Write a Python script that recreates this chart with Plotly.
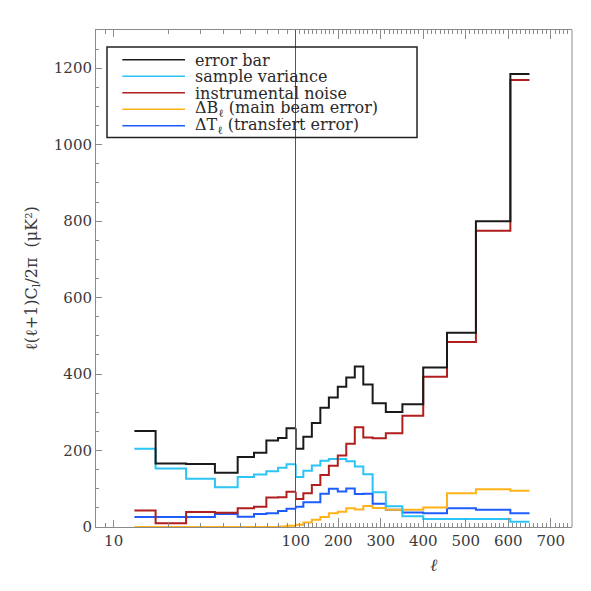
import math
import plotly.graph_objects as go
from plotly.subplots import make_subplots

# multipole bin edges: low-l part drawn on a log axis, high-l part on a linear axis
EDGES_LOW = [13, 17, 25, 36, 48, 59, 69, 80, 89, 100]
EDGES_HIGH = [100, 118, 138, 158, 178, 199, 219, 239, 259, 281, 312, 351, 400, 456, 524, 605, 650]

# band power errors (muK^2), one value per bin
ERRBAR_LOW = [251, 166, 165, 142, 183, 194, 226, 233, 258]
ERRBAR_HIGH = [205, 236, 272, 312, 339, 367, 391, 420, 373, 324, 301, 321, 417, 508, 800, 1185]

SAMPLE_LOW = [205, 153, 126, 104, 131, 137, 146, 155, 164]
SAMPLE_HIGH = [131, 147, 161, 173, 178, 178, 172, 158, 138, 91, 54, 28, 21, 21, 21, 14]

NOISE_LOW = [43, 10, 39, 37, 49, 53, 77, 78, 92]
NOISE_HIGH = [73, 88, 110, 136, 160, 187, 218, 261, 234, 232, 245, 291, 393, 484, 775, 1169]

BEAM_LOW = [0, 0, 0, 0, 0, 0, 0, 1, 3]
BEAM_HIGH = [6, 12, 19, 26, 36, 40, 49, 46, 55, 50, 45, 45, 51, 88, 99, 95]

TRANS_LOW = [26, 26, 26, 34, 27, 34, 36, 42, 48]
TRANS_HIGH = [53, 65, 65, 87, 100, 93, 101, 86, 87, 61, 45, 38, 36, 49, 45, 36]

NAMES = [
    "error bar",
    "sample variance",
    "instrumental noise",
    "ΔB<sub>ℓ</sub> (main beam error)",
    "ΔT<sub>ℓ</sub> (transfert error)",
]
COLORS = ["#1a1a1a", "#2cc3f5", "#b01e1e", "#ffb21a", "#1f5cff"]
LOW = [ERRBAR_LOW, SAMPLE_LOW, NOISE_LOW, BEAM_LOW, TRANS_LOW]
HIGH = [ERRBAR_HIGH, SAMPLE_HIGH, NOISE_HIGH, BEAM_HIGH, TRANS_HIGH]

FONT = "DejaVu Serif"
AXCOL = "#8a8a8a"


def steps(edges, vals):
    # x/y for a histogram-like line with line_shape="hv"
    return list(edges), list(vals) + [vals[-1]]


fig = make_subplots(rows=1, cols=2, shared_yaxes=True,
                    horizontal_spacing=0, column_widths=[199.7, 276.3])

# draw order: black on top
for i in [4, 3, 1, 2, 0]:
    x, y = steps(EDGES_LOW, LOW[i])
    fig.add_trace(go.Scatter(x=x, y=y, mode="lines", line_shape="hv",
                             line=dict(color=COLORS[i], width=2),
                             name=NAMES[i], showlegend=False), row=1, col=1)
    # right panel also starts with the jump at l=100
    x, y = steps(EDGES_HIGH, HIGH[i])
    x = [EDGES_HIGH[0]] + x
    y = [LOW[i][-1]] + y
    fig.add_trace(go.Scatter(x=x, y=y, mode="lines", line_shape="hv",
                             line=dict(color=COLORS[i], width=2),
                             name=NAMES[i], showlegend=False), row=1, col=2)

tickfont = dict(family=FONT, size=15, color="#3a3a3a")

fig.update_xaxes(type="log", range=[math.log10(8), 2],
                 tickvals=[10], ticktext=["10"],
                 ticks="inside", ticklen=7, tickcolor=AXCOL,
                 minor=dict(tickvals=[8, 9, 20, 30, 40, 50, 60, 70, 80, 90],
                            ticks="inside", ticklen=4, tickcolor=AXCOL),
                 showline=True, linecolor=AXCOL, linewidth=1, mirror="ticks",
                 showgrid=False, zeroline=False, tickfont=tickfont,
                 row=1, col=1)
fig.update_xaxes(range=[100, 750], tick0=0, dtick=100,
                 ticks="inside", ticklen=9, tickcolor=AXCOL,
                 minor=dict(dtick=10, ticks="inside", ticklen=4, tickcolor=AXCOL),
                 showline=True, linecolor=AXCOL, linewidth=1, mirror="ticks",
                 showgrid=False, zeroline=False, tickfont=tickfont,
                 title=dict(text="<i>ℓ</i>", font=dict(family=FONT, size=17, color="#3a3a3a"),
                            standoff=10),
                 row=1, col=2)
fig.update_yaxes(range=[0, 1300], dtick=200,
                 ticks="inside", ticklen=6, tickcolor=AXCOL,
                 minor=dict(dtick=50, ticks="inside", ticklen=3, tickcolor=AXCOL),
                 showline=True, linecolor=AXCOL, linewidth=1,
                 showgrid=False, zeroline=False, tickfont=tickfont,
                 title=dict(text="ℓ(ℓ+1)C<sub>l</sub>/2π  (μK²)",
                            font=dict(family=FONT, size=16, color="#3a3a3a"),
                            standoff=12),
                 row=1, col=1)
fig.update_yaxes(showticklabels=False, ticks="", showline=True,
                 linecolor="#555", linewidth=1, showgrid=False, zeroline=False,
                 row=1, col=2)

# right frame edge
fig.add_shape(type="line", xref="paper", yref="paper", x0=1, x1=1, y0=0, y1=1,
              line=dict(color=AXCOL, width=1))

# legend box drawn by hand (long line samples like the original)
fig.add_shape(type="rect", xref="paper", yref="paper",
              x0=0.0231, x1=0.6744, y0=0.7836, y1=0.9659,
              line=dict(color="#222", width=1.5))
for i, name in enumerate(NAMES):
    yy = 0.9399 - i * 0.0331
    fig.add_shape(type="line", xref="paper", yref="paper",
                  x0=0.0553, x1=0.187, y0=yy, y1=yy,
                  line=dict(color=COLORS[i], width=1.5))
    fig.add_annotation(x=0.206, y=yy, xref="paper", yref="paper",
                       text=name, showarrow=False, xanchor="left", yanchor="middle",
                       height=16, borderpad=0,
                       font=dict(family=FONT, size=16, color="#2a2a2a"))

# page body adds an 8px margin, so the figure is 16px smaller than the window
fig.update_layout(
    width=575, height=575,
    margin=dict(l=88, r=11, t=22, b=54),
    plot_bgcolor="white", paper_bgcolor="white",
    showlegend=False,
)

fig.write_html("out.html")
